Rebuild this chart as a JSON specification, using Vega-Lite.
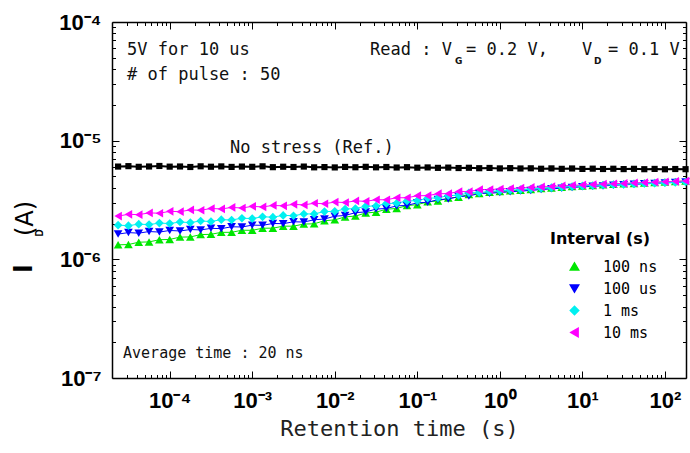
{
"$schema": "https://vega.github.io/schema/vega-lite/v6.json",
"width": 574, "height": 356,
"autosize": {"type": "none"},
"padding": {"left": 112, "top": 22, "right": 4, "bottom": 75},
"background": "white",
"config": {"view": {"stroke": null}},
"datasets": {
"intv": [
{"s":"100 ns","t":2.371e-5,"I":1.325e-6},{"s":"100 ns","t":3.162e-5,"I":1.333e-6},{"s":"100 ns","t":4.217e-5,"I":1.394e-6},{"s":"100 ns","t":5.623e-5,"I":1.402e-6},{"s":"100 ns","t":7.499e-5,"I":1.463e-6},{"s":"100 ns","t":1e-4,"I":1.471e-6},{"s":"100 ns","t":1.334e-4,"I":1.539e-6},{"s":"100 ns","t":1.778e-4,"I":1.544e-6},{"s":"100 ns","t":2.371e-4,"I":1.616e-6},{"s":"100 ns","t":3.162e-4,"I":1.625e-6},{"s":"100 ns","t":4.217e-4,"I":1.688e-6},{"s":"100 ns","t":5.623e-4,"I":1.689e-6},{"s":"100 ns","t":7.499e-4,"I":1.759e-6},{"s":"100 ns","t":1e-3,"I":1.756e-6},{"s":"100 ns","t":1.334e-3,"I":1.829e-6},{"s":"100 ns","t":1.778e-3,"I":1.831e-6},{"s":"100 ns","t":2.371e-3,"I":1.903e-6},{"s":"100 ns","t":3.162e-3,"I":1.904e-6},{"s":"100 ns","t":4.217e-3,"I":1.983e-6},{"s":"100 ns","t":5.623e-3,"I":1.994e-6},{"s":"100 ns","t":7.499e-3,"I":2.115e-6},{"s":"100 ns","t":1e-2,"I":2.151e-6},{"s":"100 ns","t":1.334e-2,"I":2.277e-6},{"s":"100 ns","t":1.778e-2,"I":2.316e-6},{"s":"100 ns","t":2.371e-2,"I":2.456e-6},{"s":"100 ns","t":3.162e-2,"I":2.498e-6},{"s":"100 ns","t":4.217e-2,"I":2.644e-6},{"s":"100 ns","t":5.623e-2,"I":2.683e-6},{"s":"100 ns","t":7.499e-2,"I":2.840e-6},{"s":"100 ns","t":0.1,"I":2.888e-6},{"s":"100 ns","t":0.1334,"I":3.050e-6},{"s":"100 ns","t":0.1778,"I":3.102e-6},{"s":"100 ns","t":0.2371,"I":3.284e-6},{"s":"100 ns","t":0.3162,"I":3.339e-6},{"s":"100 ns","t":0.4217,"I":3.526e-6},{"s":"100 ns","t":0.5623,"I":3.586e-6},{"s":"100 ns","t":0.7499,"I":3.673e-6},{"s":"100 ns","t":1,"I":3.724e-6},{"s":"100 ns","t":1.334,"I":3.776e-6},{"s":"100 ns","t":1.778,"I":3.828e-6},{"s":"100 ns","t":2.371,"I":3.882e-6},{"s":"100 ns","t":3.162,"I":3.945e-6},{"s":"100 ns","t":4.217,"I":3.999e-6},{"s":"100 ns","t":5.623,"I":4.055e-6},{"s":"100 ns","t":7.499,"I":4.111e-6},{"s":"100 ns","t":10,"I":4.159e-6},{"s":"100 ns","t":13.34,"I":4.198e-6},{"s":"100 ns","t":17.78,"I":4.246e-6},{"s":"100 ns","t":23.71,"I":4.285e-6},{"s":"100 ns","t":31.62,"I":4.325e-6},{"s":"100 ns","t":42.17,"I":4.365e-6},{"s":"100 ns","t":56.23,"I":4.406e-6},{"s":"100 ns","t":74.99,"I":4.446e-6},{"s":"100 ns","t":100,"I":4.487e-6},{"s":"100 ns","t":133.4,"I":4.529e-6},{"s":"100 ns","t":177.8,"I":4.571e-6},
{"s":"100 us","t":2.371e-5,"I":1.632e-6},{"s":"100 us","t":3.162e-5,"I":1.680e-6},{"s":"100 us","t":4.217e-5,"I":1.662e-6},{"s":"100 us","t":5.623e-5,"I":1.715e-6},{"s":"100 us","t":7.499e-5,"I":1.697e-6},{"s":"100 us","t":1e-4,"I":1.751e-6},{"s":"100 us","t":1.334e-4,"I":1.733e-6},{"s":"100 us","t":1.778e-4,"I":1.784e-6},{"s":"100 us","t":2.371e-4,"I":1.768e-6},{"s":"100 us","t":3.162e-4,"I":1.825e-6},{"s":"100 us","t":4.217e-4,"I":1.814e-6},{"s":"100 us","t":5.623e-4,"I":1.881e-6},{"s":"100 us","t":7.499e-4,"I":1.873e-6},{"s":"100 us","t":1e-3,"I":1.942e-6},{"s":"100 us","t":1.334e-3,"I":1.934e-6},{"s":"100 us","t":1.778e-3,"I":2.006e-6},{"s":"100 us","t":2.371e-3,"I":1.998e-6},{"s":"100 us","t":3.162e-3,"I":2.072e-6},{"s":"100 us","t":4.217e-3,"I":2.063e-6},{"s":"100 us","t":5.623e-3,"I":2.154e-6},{"s":"100 us","t":7.499e-3,"I":2.186e-6},{"s":"100 us","t":1e-2,"I":2.309e-6},{"s":"100 us","t":1.334e-2,"I":2.342e-6},{"s":"100 us","t":1.778e-2,"I":2.473e-6},{"s":"100 us","t":2.371e-2,"I":2.510e-6},{"s":"100 us","t":3.162e-2,"I":2.650e-6},{"s":"100 us","t":4.217e-2,"I":2.683e-6},{"s":"100 us","t":5.623e-2,"I":2.821e-6},{"s":"100 us","t":7.499e-2,"I":2.848e-6},{"s":"100 us","t":0.1,"I":2.995e-6},{"s":"100 us","t":0.1334,"I":3.024e-6},{"s":"100 us","t":0.1778,"I":3.187e-6},{"s":"100 us","t":0.2371,"I":3.218e-6},{"s":"100 us","t":0.3162,"I":3.384e-6},{"s":"100 us","t":0.4217,"I":3.416e-6},{"s":"100 us","t":0.5623,"I":3.592e-6},{"s":"100 us","t":0.7499,"I":3.606e-6},{"s":"100 us","t":1,"I":3.656e-6},{"s":"100 us","t":1.334,"I":3.707e-6},{"s":"100 us","t":1.778,"I":3.758e-6},{"s":"100 us","t":2.371,"I":3.811e-6},{"s":"100 us","t":3.162,"I":3.873e-6},{"s":"100 us","t":4.217,"I":3.926e-6},{"s":"100 us","t":5.623,"I":3.981e-6},{"s":"100 us","t":7.499,"I":4.036e-6},{"s":"100 us","t":10,"I":4.083e-6},{"s":"100 us","t":13.34,"I":4.121e-6},{"s":"100 us","t":17.78,"I":4.159e-6},{"s":"100 us","t":23.71,"I":4.207e-6},{"s":"100 us","t":31.62,"I":4.246e-6},{"s":"100 us","t":42.17,"I":4.285e-6},{"s":"100 us","t":56.23,"I":4.325e-6},{"s":"100 us","t":74.99,"I":4.365e-6},{"s":"100 us","t":100,"I":4.406e-6},{"s":"100 us","t":133.4,"I":4.446e-6},{"s":"100 us","t":177.8,"I":4.487e-6},
{"s":"1 ms","t":2.371e-5,"I":1.942e-6},{"s":"1 ms","t":3.162e-5,"I":1.922e-6},{"s":"1 ms","t":4.217e-5,"I":1.979e-6},{"s":"1 ms","t":5.623e-5,"I":1.962e-6},{"s":"1 ms","t":7.499e-5,"I":2.020e-6},{"s":"1 ms","t":1e-4,"I":2.003e-6},{"s":"1 ms","t":1.334e-4,"I":2.062e-6},{"s":"1 ms","t":1.778e-4,"I":2.040e-6},{"s":"1 ms","t":2.371e-4,"I":2.105e-6},{"s":"1 ms","t":3.162e-4,"I":2.083e-6},{"s":"1 ms","t":4.217e-4,"I":2.159e-6},{"s":"1 ms","t":5.623e-4,"I":2.146e-6},{"s":"1 ms","t":7.499e-4,"I":2.220e-6},{"s":"1 ms","t":1e-3,"I":2.206e-6},{"s":"1 ms","t":1.334e-3,"I":2.282e-6},{"s":"1 ms","t":1.778e-3,"I":2.268e-6},{"s":"1 ms","t":2.371e-3,"I":2.346e-6},{"s":"1 ms","t":3.162e-3,"I":2.331e-6},{"s":"1 ms","t":4.217e-3,"I":2.412e-6},{"s":"1 ms","t":5.623e-3,"I":2.414e-6},{"s":"1 ms","t":7.499e-3,"I":2.525e-6},{"s":"1 ms","t":1e-2,"I":2.538e-6},{"s":"1 ms","t":1.334e-2,"I":2.656e-6},{"s":"1 ms","t":1.778e-2,"I":2.677e-6},{"s":"1 ms","t":2.371e-2,"I":2.801e-6},{"s":"1 ms","t":3.162e-2,"I":2.816e-6},{"s":"1 ms","t":4.217e-2,"I":2.953e-6},{"s":"1 ms","t":5.623e-2,"I":2.969e-6},{"s":"1 ms","t":7.499e-2,"I":3.107e-6},{"s":"1 ms","t":0.1,"I":3.123e-6},{"s":"1 ms","t":0.1334,"I":3.275e-6},{"s":"1 ms","t":0.1778,"I":3.294e-6},{"s":"1 ms","t":0.2371,"I":3.446e-6},{"s":"1 ms","t":0.3162,"I":3.464e-6},{"s":"1 ms","t":0.4217,"I":3.633e-6},{"s":"1 ms","t":0.5623,"I":3.653e-6},{"s":"1 ms","t":0.7499,"I":3.733e-6},{"s":"1 ms","t":1,"I":3.776e-6},{"s":"1 ms","t":1.334,"I":3.828e-6},{"s":"1 ms","t":1.778,"I":3.873e-6},{"s":"1 ms","t":2.371,"I":3.917e-6},{"s":"1 ms","t":3.162,"I":3.972e-6},{"s":"1 ms","t":4.217,"I":4.018e-6},{"s":"1 ms","t":5.623,"I":4.064e-6},{"s":"1 ms","t":7.499,"I":4.111e-6},{"s":"1 ms","t":10,"I":4.159e-6},{"s":"1 ms","t":13.34,"I":4.188e-6},{"s":"1 ms","t":17.78,"I":4.227e-6},{"s":"1 ms","t":23.71,"I":4.256e-6},{"s":"1 ms","t":31.62,"I":4.285e-6},{"s":"1 ms","t":42.17,"I":4.325e-6},{"s":"1 ms","t":56.23,"I":4.355e-6},{"s":"1 ms","t":74.99,"I":4.385e-6},{"s":"1 ms","t":100,"I":4.426e-6},{"s":"1 ms","t":133.4,"I":4.457e-6},{"s":"1 ms","t":177.8,"I":4.487e-6},
{"s":"10 ms","t":2.371e-5,"I":2.316e-6},{"s":"10 ms","t":3.162e-5,"I":2.395e-6},{"s":"10 ms","t":4.217e-5,"I":2.380e-6},{"s":"10 ms","t":5.623e-5,"I":2.462e-6},{"s":"10 ms","t":7.499e-5,"I":2.447e-6},{"s":"10 ms","t":1e-4,"I":2.537e-6},{"s":"10 ms","t":1.334e-4,"I":2.522e-6},{"s":"10 ms","t":1.778e-4,"I":2.608e-6},{"s":"10 ms","t":2.371e-4,"I":2.592e-6},{"s":"10 ms","t":3.162e-4,"I":2.682e-6},{"s":"10 ms","t":4.217e-4,"I":2.658e-6},{"s":"10 ms","t":5.623e-4,"I":2.737e-6},{"s":"10 ms","t":7.499e-4,"I":2.708e-6},{"s":"10 ms","t":1e-3,"I":2.795e-6},{"s":"10 ms","t":1.334e-3,"I":2.765e-6},{"s":"10 ms","t":1.778e-3,"I":2.846e-6},{"s":"10 ms","t":2.371e-3,"I":2.822e-6},{"s":"10 ms","t":3.162e-3,"I":2.906e-6},{"s":"10 ms","t":4.217e-3,"I":2.875e-6},{"s":"10 ms","t":5.623e-3,"I":2.967e-6},{"s":"10 ms","t":7.499e-3,"I":2.942e-6},{"s":"10 ms","t":1e-2,"I":3.036e-6},{"s":"10 ms","t":1.334e-2,"I":3.011e-6},{"s":"10 ms","t":1.778e-2,"I":3.107e-6},{"s":"10 ms","t":2.371e-2,"I":3.081e-6},{"s":"10 ms","t":3.162e-2,"I":3.179e-6},{"s":"10 ms","t":4.217e-2,"I":3.174e-6},{"s":"10 ms","t":5.623e-2,"I":3.306e-6},{"s":"10 ms","t":7.499e-2,"I":3.301e-6},{"s":"10 ms","t":0.1,"I":3.438e-6},{"s":"10 ms","t":0.1334,"I":3.440e-6},{"s":"10 ms","t":0.1778,"I":3.575e-6},{"s":"10 ms","t":0.2371,"I":3.578e-6},{"s":"10 ms","t":0.3162,"I":3.727e-6},{"s":"10 ms","t":0.4217,"I":3.720e-6},{"s":"10 ms","t":0.5623,"I":3.875e-6},{"s":"10 ms","t":0.7499,"I":3.873e-6},{"s":"10 ms","t":1,"I":3.917e-6},{"s":"10 ms","t":1.334,"I":3.954e-6},{"s":"10 ms","t":1.778,"I":3.990e-6},{"s":"10 ms","t":2.371,"I":4.036e-6},{"s":"10 ms","t":3.162,"I":4.074e-6},{"s":"10 ms","t":4.217,"I":4.111e-6},{"s":"10 ms","t":5.623,"I":4.159e-6},{"s":"10 ms","t":7.499,"I":4.198e-6},{"s":"10 ms","t":10,"I":4.236e-6},{"s":"10 ms","t":13.34,"I":4.266e-6},{"s":"10 ms","t":17.78,"I":4.305e-6},{"s":"10 ms","t":23.71,"I":4.335e-6},{"s":"10 ms","t":31.62,"I":4.365e-6},{"s":"10 ms","t":42.17,"I":4.406e-6},{"s":"10 ms","t":56.23,"I":4.436e-6},{"s":"10 ms","t":74.99,"I":4.467e-6},{"s":"10 ms","t":100,"I":4.508e-6},{"s":"10 ms","t":133.4,"I":4.539e-6},{"s":"10 ms","t":177.8,"I":4.571e-6}
],
"ref": [
{"t":2.371e-5,"I":6.05e-6},{"t":3.162e-5,"I":6.10e-6},{"t":4.217e-5,"I":6.02e-6},{"t":5.623e-5,"I":6.06e-6},{"t":7.499e-5,"I":6.12e-6},{"t":1e-4,"I":6.04e-6},{"t":1.334e-4,"I":6.06e-6},{"t":1.778e-4,"I":6.00e-6},{"t":2.371e-4,"I":6.08e-6},{"t":3.162e-4,"I":6.03e-6},{"t":4.217e-4,"I":6.07e-6},{"t":5.623e-4,"I":6.01e-6},{"t":7.499e-4,"I":6.05e-6},{"t":1e-3,"I":6.02e-6},{"t":1.334e-3,"I":6.08e-6},{"t":1.778e-3,"I":5.98e-6},{"t":2.371e-3,"I":6.03e-6},{"t":3.162e-3,"I":6.00e-6},{"t":4.217e-3,"I":6.05e-6},{"t":5.623e-3,"I":5.96e-6},{"t":7.499e-3,"I":5.99e-6},{"t":1e-2,"I":5.95e-6},{"t":1.334e-2,"I":6.01e-6},{"t":1.778e-2,"I":5.97e-6},{"t":2.371e-2,"I":6.02e-6},{"t":3.162e-2,"I":5.96e-6},{"t":4.217e-2,"I":6.00e-6},{"t":5.623e-2,"I":5.94e-6},{"t":7.499e-2,"I":5.98e-6},{"t":0.1,"I":5.92e-6},{"t":0.1334,"I":5.95e-6},{"t":0.1778,"I":5.90e-6},{"t":0.2371,"I":5.93e-6},{"t":0.3162,"I":5.88e-6},{"t":0.4217,"I":5.91e-6},{"t":0.5623,"I":5.86e-6},{"t":0.7499,"I":5.89e-6},{"t":1,"I":5.84e-6},{"t":1.334,"I":5.87e-6},{"t":1.778,"I":5.83e-6},{"t":2.371,"I":5.85e-6},{"t":3.162,"I":5.80e-6},{"t":4.217,"I":5.84e-6},{"t":5.623,"I":5.79e-6},{"t":7.499,"I":5.83e-6},{"t":10,"I":5.78e-6},{"t":13.34,"I":5.81e-6},{"t":17.78,"I":5.77e-6},{"t":23.71,"I":5.80e-6},{"t":31.62,"I":5.76e-6},{"t":42.17,"I":5.79e-6},{"t":56.23,"I":5.75e-6},{"t":74.99,"I":5.78e-6},{"t":100,"I":5.74e-6},{"t":133.4,"I":5.77e-6},{"t":177.8,"I":5.75e-6}
]
},
"resolve": {"axis": {"x": "independent", "y": "independent"}},
"layer": [
{
 "data": {"name": "intv"},
 "mark": {"type": "line", "strokeWidth": 1, "point": {"filled": true, "size": 75, "opacity": 1}},
 "encoding": {
  "x": {"field": "t", "type": "quantitative", "scale": {"type": "log", "domain": [2e-5, 180], "nice": false},
   "axis": {"orient": "bottom", "values": [3e-5,4e-5,5e-5,6e-5,7e-5,8e-5,9e-5,1e-4,2e-4,3e-4,4e-4,5e-4,6e-4,7e-4,8e-4,9e-4,0.001,0.002,0.003,0.004,0.005,0.006,0.007,0.008,0.009,0.01,0.02,0.03,0.04,0.05,0.06,0.07,0.08,0.09,0.1,0.2,0.3,0.4,0.5,0.6,0.7,0.8,0.9,1,2,3,4,5,6,7,8,9,10,20,30,40,50,60,70,80,90,100],
    "labelExpr": "abs(log(datum.value)/LN10 - round(log(datum.value)/LN10)) < 0.01 ? '10' + replace(replace(replace(replace(replace(replace(replace(replace(replace('' + round(log(datum.value)/LN10), '-', '⁻'), '0', '⁰'), '1', '¹'), '2', '²'), '3', '³'), '4', '⁴'), '5', '⁵'), '6', '⁶'), '7', '⁷') : ''",
    "labelFont": "Liberation Sans", "labelFontSize": 22, "labelFontWeight": "bold", "labelColor": "black", "labelPadding": 19, "labelOverlap": false, "labelFlush": false, "labelBound": false,
    "tickSize": {"condition": {"test": "abs(log(datum.value)/LN10 - round(log(datum.value)/LN10)) < 0.01", "value": -7}, "value": -3.5},
    "tickColor": "black", "tickWidth": 1, "domainColor": "black", "domainWidth": 1.5, "grid": false,
    "title": "Retention time (s)", "titleFont": "DejaVu Sans Mono", "titleFontSize": 22, "titleFontWeight": "normal", "titleColor": "#222", "titlePadding": 4}},
  "y": {"field": "I", "type": "quantitative", "scale": {"type": "log", "domain": [1e-7, 1e-4], "nice": false},
   "axis": {"orient": "left", "values": [1e-7,2e-7,3e-7,4e-7,5e-7,6e-7,7e-7,8e-7,9e-7,1e-6,2e-6,3e-6,4e-6,5e-6,6e-6,7e-6,8e-6,9e-6,1e-5,2e-5,3e-5,4e-5,5e-5,6e-5,7e-5,8e-5,9e-5,1e-4],
    "labelExpr": "abs(log(datum.value)/LN10 - round(log(datum.value)/LN10)) < 0.01 ? '10' + replace(replace(replace(replace(replace(replace(replace(replace(replace('' + round(log(datum.value)/LN10), '-', '⁻'), '0', '⁰'), '1', '¹'), '2', '²'), '3', '³'), '4', '⁴'), '5', '⁵'), '6', '⁶'), '7', '⁷') : ''",
    "labelFont": "Liberation Sans", "labelFontSize": 22, "labelFontWeight": "bold", "labelColor": "black", "labelPadding": 18, "labelOverlap": false, "labelFlush": false, "labelBound": false,
    "tickSize": {"condition": {"test": "abs(log(datum.value)/LN10 - round(log(datum.value)/LN10)) < 0.01", "value": -7}, "value": -3.5},
    "tickColor": "black", "tickWidth": 1, "domainColor": "black", "domainWidth": 1.5, "grid": false,
    "title": "I", "titleFont": "Liberation Sans", "titleFontSize": 28, "titleFontWeight": "bold", "titleColor": "black",
    "titleAngle": 270, "titleX": -89, "titleY": 246, "titleAlign": "center", "titleBaseline": "middle"}},
  "color": {"field": "s", "type": "nominal",
   "scale": {"domain": ["100 ns", "100 us", "1 ms", "10 ms"], "range": ["#00e600", "#0000ff", "#00f0f0", "#ff00ff"]},
   "legend": {"title": "Interval (s)", "orient": "none", "legendX": 438, "legendY": 209, "padding": 0,
    "titleFont": "DejaVu Sans", "titleFontSize": 16, "titleFontWeight": "bold", "titleColor": "black", "titlePadding": 12,
    "labelFont": "DejaVu Sans Mono", "labelFontSize": 15, "labelColor": "black", "labelOffset": 21,
    "symbolSize": 70, "symbolOffset": 17, "symbolStrokeWidth": 1.5, "rowPadding": 6}},
  "shape": {"field": "s", "type": "nominal",
   "scale": {"domain": ["100 ns", "100 us", "1 ms", "10 ms"], "range": ["triangle-up", "triangle-down", "diamond", "triangle-left"]},
   "legend": null}
 }
},
{
 "data": {"name": "ref"},
 "mark": {"type": "line", "color": "black", "strokeWidth": 2, "point": {"filled": true, "shape": "square", "size": 38, "color": "black"}},
 "encoding": {
  "x": {"field": "t", "type": "quantitative",
   "axis": {"orient": "top", "values": [3e-5,4e-5,5e-5,6e-5,7e-5,8e-5,9e-5,1e-4,2e-4,3e-4,4e-4,5e-4,6e-4,7e-4,8e-4,9e-4,0.001,0.002,0.003,0.004,0.005,0.006,0.007,0.008,0.009,0.01,0.02,0.03,0.04,0.05,0.06,0.07,0.08,0.09,0.1,0.2,0.3,0.4,0.5,0.6,0.7,0.8,0.9,1,2,3,4,5,6,7,8,9,10,20,30,40,50,60,70,80,90,100],
    "labels": false, "grid": false,
    "tickSize": {"condition": {"test": "abs(log(datum.value)/LN10 - round(log(datum.value)/LN10)) < 0.01", "value": -7}, "value": -3.5},
    "tickColor": "black", "tickWidth": 1, "domainColor": "black", "domainWidth": 1.5,
    "title": "D", "titleFont": "Liberation Sans", "titleFontSize": 10, "titleFontWeight": "bold", "titleColor": "black",
    "titleAngle": 270, "titleX": -73, "titleY": 210.5, "titleAlign": "center", "titleBaseline": "middle"}},
  "y": {"field": "I", "type": "quantitative",
   "axis": {"orient": "right", "values": [1e-7,2e-7,3e-7,4e-7,5e-7,6e-7,7e-7,8e-7,9e-7,1e-6,2e-6,3e-6,4e-6,5e-6,6e-6,7e-6,8e-6,9e-6,1e-5,2e-5,3e-5,4e-5,5e-5,6e-5,7e-5,8e-5,9e-5,1e-4],
    "labels": false, "grid": false,
    "tickSize": {"condition": {"test": "abs(log(datum.value)/LN10 - round(log(datum.value)/LN10)) < 0.01", "value": -7}, "value": -3.5},
    "tickColor": "black", "tickWidth": 1, "domainColor": "black", "domainWidth": 1.5,
    "title": "(A)", "titleFont": "DejaVu Sans", "titleFontSize": 24, "titleFontWeight": "normal", "titleColor": "black",
    "titleAngle": 270, "titleX": -661, "titleY": 196, "titleAlign": "center", "titleBaseline": "middle"}}
 }
},
{"data": {"values": [{}]}, "mark": {"type": "text", "text": "5V for 10 us", "font": "DejaVu Sans Mono", "fontSize": 17, "align": "left", "baseline": "middle", "color": "#111"},
 "encoding": {"x": {"datum": 3.04e-5, "type": "quantitative", "axis": null}, "y": {"datum": 5.81e-5, "type": "quantitative", "axis": null}}},
{"data": {"values": [{}]}, "mark": {"type": "text", "text": "# of pulse : 50", "font": "DejaVu Sans Mono", "fontSize": 17, "align": "left", "baseline": "middle", "color": "#111"},
 "encoding": {"x": {"datum": 3.04e-5, "type": "quantitative", "axis": null}, "y": {"datum": 3.61e-5, "type": "quantitative", "axis": null}}},
{"data": {"values": [{}]}, "mark": {"type": "text", "text": "No stress (Ref.)", "font": "DejaVu Sans Mono", "fontSize": 17, "align": "left", "baseline": "middle", "color": "#111"},
 "encoding": {"x": {"datum": 5.38e-4, "type": "quantitative", "axis": null}, "y": {"datum": 8.75e-6, "type": "quantitative", "axis": null}}},
{"data": {"values": [{}]}, "mark": {"type": "text", "text": "Average time : 20 ns", "font": "DejaVu Sans Mono", "fontSize": 15, "align": "left", "baseline": "middle", "color": "#111"},
 "encoding": {"x": {"datum": 2.72e-5, "type": "quantitative", "axis": null}, "y": {"datum": 1.64e-7, "type": "quantitative", "axis": null}}},
{"data": {"values": [{}]}, "mark": {"type": "text", "text": "Read : V", "font": "DejaVu Sans Mono", "fontSize": 17, "align": "left", "baseline": "middle", "color": "#111"},
 "encoding": {"x": {"datum": 0.02673, "type": "quantitative", "axis": null}, "y": {"datum": 5.81e-5, "type": "quantitative", "axis": null}}},
{"data": {"values": [{}]}, "mark": {"type": "text", "text": "G", "font": "DejaVu Sans", "fontSize": 9, "fontWeight": "bold", "align": "left", "baseline": "middle", "color": "#111"},
 "encoding": {"x": {"datum": 0.2862, "type": "quantitative", "axis": null}, "y": {"datum": 4.69e-5, "type": "quantitative", "axis": null}}},
{"data": {"values": [{}]}, "mark": {"type": "text", "text": "= 0.2 V,", "font": "DejaVu Sans Mono", "fontSize": 17, "align": "left", "baseline": "middle", "color": "#111"},
 "encoding": {"x": {"datum": 0.3889, "type": "quantitative", "axis": null}, "y": {"datum": 5.81e-5, "type": "quantitative", "axis": null}}},
{"data": {"values": [{}]}, "mark": {"type": "text", "text": "V", "font": "DejaVu Sans Mono", "fontSize": 17, "align": "left", "baseline": "middle", "color": "#111"},
 "encoding": {"x": {"datum": 9.89, "type": "quantitative", "axis": null}, "y": {"datum": 5.81e-5, "type": "quantitative", "axis": null}}},
{"data": {"values": [{}]}, "mark": {"type": "text", "text": "D", "font": "DejaVu Sans", "fontSize": 9, "fontWeight": "bold", "align": "left", "baseline": "middle", "color": "#111"},
 "encoding": {"x": {"datum": 13.82, "type": "quantitative", "axis": null}, "y": {"datum": 4.69e-5, "type": "quantitative", "axis": null}}},
{"data": {"values": [{}]}, "mark": {"type": "text", "text": "= 0.1 V", "font": "DejaVu Sans Mono", "fontSize": 17, "align": "left", "baseline": "middle", "color": "#111"},
 "encoding": {"x": {"datum": 20.43, "type": "quantitative", "axis": null}, "y": {"datum": 5.81e-5, "type": "quantitative", "axis": null}}}
]
}
